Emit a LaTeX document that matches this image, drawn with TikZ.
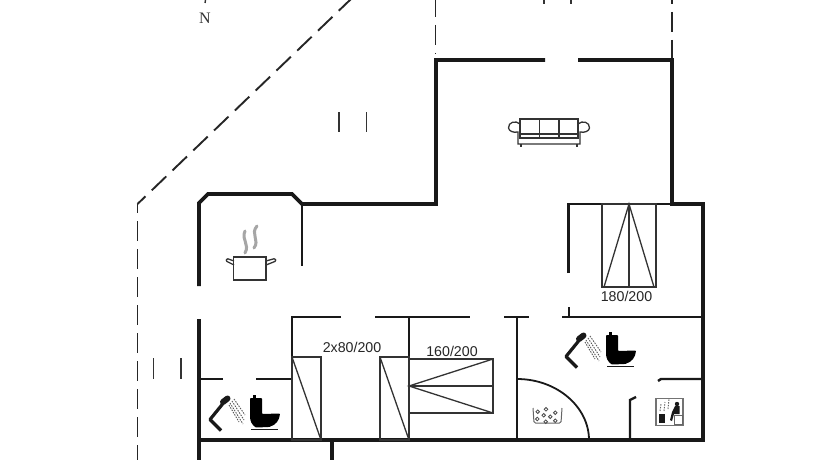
\documentclass[tikz,border=0pt]{standalone}
\usepackage{fontspec}
\setmainfont{Liberation Sans}
\newfontfamily\northfont{Liberation Serif}

\tikzset{
	outerwall/.style={line width=3.8pt, black!90!white, line join=miter},
	innerwall/.style={line width=2.4pt, black!90!white},
	bedline/.style={line width=1.3pt, black!80!white},
	contour/.style={line width=1.9pt, dash pattern=on 20pt off 8pt, black!85!white},
	tick/.style={line width=1.4pt, black!80!white},
	sizelabel/.style={font=\fontsize{14.2}{15}\selectfont, black!85!white},
	pics/bathset/.style={code={
		\draw[line width=3.2pt, line join=round, black!90!white] (221,430.5) -- (210,419.5) -- (223,403.5);
		\draw[line width=6pt, line cap=round, black!90!white] (223,402) -- (227.5,398.5);
		\foreach \xa/\ya/\xb/\yb in {234/399/245/415, 232/401/244/420, 230/403/243/424, 229/405/239/422}
			\draw[line width=0.9pt, black!65!white, dash pattern=on 1.5pt off 1.2pt] (\xa,\ya) -- (\xb,\yb);
		\fill[black] (253,395) rectangle (255.5,399);
		\fill[black, rounded corners=0.8pt] (250,398) -- (262,398) -- (262,414) -- (280,413.5)
			.. controls (279.5,420) and (276,425) .. (269,427) -- (256,427.5)
			.. controls (252,425) and (250,421) .. (250,416) -- cycle;
		\draw[line width=1.3pt, black!90!white] (251,429.5) -- (278,429.5);
	}}
}

\begin{document}
\begin{tikzpicture}[x=1pt, y=-1pt]

	\useasboundingbox (0,0) rectangle (840,460);
	\fill[white] (0,0) rectangle (840,460);

	% outline outside the house
	\draw[contour, dash pattern=on 20pt off 8.8pt, dash phase=9pt] (137.5,204) -- (351,-1);
	\draw[contour, dash phase=11pt] (137.5,204) -- (137.5,460);
	\draw[contour, dash phase=3pt] (435.5,0) -- (435.5,54);
	\draw[contour, dash phase=16pt] (672,0) -- (672,60);

	\draw[tick] (205.5,0) -- (205,3);
	\draw[tick] (544,0) -- (544,4);
	\draw[tick] (571,0) -- (571,4);
	\draw[tick] (339,112) -- (339,132);
	\draw[tick] (366.5,112) -- (366.5,132);
	\draw[tick] (153.5,358) -- (153.5,379);
	\draw[tick] (181,358) -- (181,379);

	\node[font=\northfont\fontsize{16}{16}\selectfont, black!80!white] (north) at (205,18) {N};

	% outer walls
	\draw[outerwall] (199,286) -- (199,203) -- (208,194) -- (292,194) -- (302,204) -- (436,204) -- (436,60) -- (545,60);
	\draw[outerwall] (578,60) -- (672,60) -- (672,204) -- (703,204) -- (703,441.5);
	\draw[outerwall] (199,319) -- (199,460);
	\draw[outerwall] (197,440) -- (705,440);
	\draw[outerwall] (332,440) -- (332,460);

	% inner walls
	\draw[innerwall] (302,204) -- (302,266);
	\draw[innerwall] (568.5,273) -- (568.5,204) -- (670,204);
	\draw[innerwall] (569,307) -- (569,317);
	\draw[innerwall] (341,317) -- (292,317) -- (292,440);
	\draw[innerwall] (375,317) -- (470,317);
	\draw[innerwall] (409,317) -- (409,440);
	\draw[innerwall] (504,317) -- (529,317);
	\draw[innerwall] (517,317) -- (517,440);
	\draw[innerwall] (562,317) -- (703,317);
	\draw[innerwall] (199,379) -- (223,379);
	\draw[innerwall] (256,379) -- (292,379);
	\draw[innerwall] (658,381) -- (661,379) -- (703,379);
	\draw[innerwall] (636,397) -- (630,400) -- (630,440);
	\draw[innerwall, line width=1.8pt] (517,379) .. controls (557,379) and (589,407) .. (589,440);

	% beds
	\draw[bedline] (292,357) rectangle (321,440);
	\draw[bedline] (292,357) -- (321,440);
	\draw[bedline] (380,357) rectangle (409,440);
	\draw[bedline] (380,357) -- (409,440);
	\node[sizelabel] (bedtwin) at (352,347) {2x80/200};

	\draw[bedline] (409,359) rectangle (493,413);
	\draw[bedline] (409,386) -- (493,386);
	\draw[bedline] (493,359) -- (409,386) -- (493,413);
	\node[sizelabel] (beddouble) at (452,351) {160/200};

	\draw[bedline] (602,204) rectangle (656,287);
	\draw[bedline] (629,204) -- (629,287);
	\draw[bedline] (604,287) -- (629,204) -- (654,287);
	\node[sizelabel] (bedlarge) at (626.5,296) {180/200};

	% sofa
	\draw[bedline] (520,119) rectangle (578,138);
	\draw[bedline] (539.5,119) -- (539.5,138);
	\draw[bedline] (559,119) -- (559,138);
	\draw[bedline] (520,134) -- (578,134);
	\draw[bedline] (520,124) .. controls (516,120) and (508,122) .. (508.5,128) .. controls (509,131) and (513,133) .. (518,132) -- (518,144) -- (580,144) -- (580,132) .. controls (585,133) and (589,131) .. (589.5,128) .. controls (590,122) and (582,120) .. (578,124);
	\draw[bedline] (521,144) -- (521,146.5);
	\draw[bedline] (577,144) -- (577,146.5);

	% kitchen pot
	\draw[bedline, line width=1.5pt] (233.5,257) rectangle (266,280);
	\draw[bedline, rounded corners=1pt] (234,261) -- (227,258.5) -- (226,261) -- (234,265);
	\draw[bedline, rounded corners=1pt] (266,261) -- (275,258.5) -- (276,261) -- (266,265);
	\draw[black!35!white, line width=3pt, line cap=round] (245,253) .. controls (250,244) and (241,240) .. (245,231);
	\draw[black!35!white, line width=3pt, line cap=round] (254,248) .. controls (260,240) and (250,234) .. (257,226);

	% bathrooms
	\pic at (0,0) {bathset};
	\pic at (356,-63) {bathset};

	% tub with bubbles
	\draw[line width=1pt, black!60!white, rounded corners=1.5pt] (533,408) -- (534,423) -- (561,423) -- (562,408);
	\foreach \xb/\yb in {537.7/411.7, 546/409.3, 555.3/412.7, 543.7/415.3, 550.3/416.7, 537.3/419, 545.7/421.7, 555.3/420.7}
		\draw[line width=0.8pt, black!70!white] (\xb,\yb) circle (1.8pt);

	% sauna sign
	\draw[line width=1.4pt, black!55!white] (656,398.5) rectangle (683,425.5);
	\fill[black!90!white] (659.3,413.5) rectangle (665,423);
	\fill[black!90!white] (677,404) circle (2.2pt);
	\fill[black!90!white] (675,406) -- (679.5,406) -- (679.5,414) -- (674,414) -- (672,421) -- (670,420) -- (672,412) -- cycle;
	\draw[line width=0.9pt, black!60!white] (674,415) rectangle (682,424.5);
	\foreach \xb/\ya/\yb in {660/404/411, 664/402/411, 668/399/409}
		\draw[line width=0.9pt, black!60!white, dash pattern=on 1.5pt off 1.2pt] (\xb,\yb) -- (\xb+1,\ya);

\end{tikzpicture}
\end{document}
